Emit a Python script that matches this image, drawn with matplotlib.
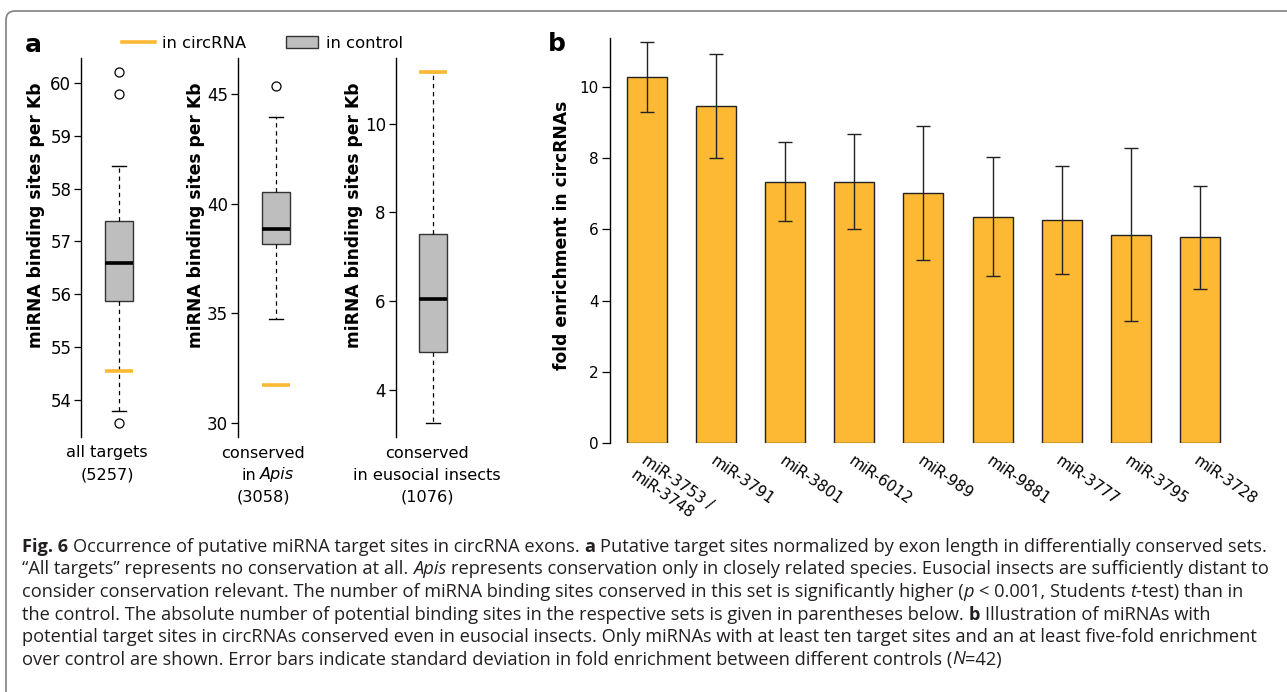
import matplotlib
matplotlib.use('Agg')
import matplotlib.pyplot as plt
from matplotlib.patches import FancyBboxPatch, Patch
from matplotlib.lines import Line2D

# ---------------- data ----------------
box_names = ['all targets', 'conserved', 'conserved']
box_sub = ['', 'in Apis', 'in eusocial insects']
box_counts = ['(5257)', '(3058)', '(1076)']
q1 = [55.88, 38.15, 4.85]
med = [56.59, 38.86, 6.06]
q3 = [57.38, 40.51, 7.52]
whislo = [53.80, 34.74, 3.26]
whishi = [58.43, 43.94, 11.16]
fliers = [[60.21, 59.79, 53.57], [45.36], []]
circ_vals = [54.54, 31.73, 11.17]
a_ylims = [(53.3, 60.47), (29.38, 46.62), (2.94, 11.48)]
a_yticks = [[54, 55, 56, 57, 58, 59, 60], [30, 35, 40, 45], [4, 6, 8, 10]]

mirnas = ['miR-3753 /\nmiR-3748', 'miR-3791', 'miR-3801', 'miR-6012', 'miR-989',
          'miR-9881', 'miR-3777', 'miR-3795', 'miR-3728']
fold = [10.28, 9.46, 7.34, 7.34, 7.02, 6.35, 6.27, 5.85, 5.77]
sd = [0.99, 1.47, 1.11, 1.33, 1.88, 1.67, 1.52, 2.43, 1.45]
b_yticks = [0, 2, 4, 6, 8, 10]

ORANGE = '#FDB933'
GRAY = '#BEBEBE'
DARK = '#222222'

W, H = 1287, 692
fig = plt.figure(figsize=(W / 100, H / 100), dpi=100)
plt.rcParams['font.family'] = ['DejaVu Sans']


def fx(px):
    return px / W


def fy(py):
    return 1 - py / H


# background axes in pixel coordinates (frame + caption)
bg = fig.add_axes([0, 0, 1, 1], zorder=-1)
bg.set_xlim(0, W)
bg.set_ylim(H, 0)
bg.axis('off')
bg.add_patch(FancyBboxPatch((6, 11), W + 30, H + 30,
                            boxstyle='round,pad=0,rounding_size=9',
                            fill=False, ec='#8a8a8a', lw=1.3))

# ---------------- panel a ----------------
spines_x = [81, 238, 395.5]
box_cx = [119, 276, 433]
label_cx = [107, 263, 427]
ylab_x = [36, 196, 354]
top, bottom, axw = 58, 437, 70
LAB = 11.6
for i in range(3):
    ax = fig.add_axes([fx(spines_x[i]), fy(bottom), axw / W, (bottom - top) / H])
    pos = (box_cx[i] - spines_x[i]) / axw
    stats = dict(med=med[i], q1=q1[i], q3=q3[i], whislo=whislo[i],
                 whishi=whishi[i], fliers=fliers[i])
    ax.bxp([stats], positions=[pos], widths=0.4, capwidths=0.2, patch_artist=True,
           boxprops=dict(facecolor=GRAY, edgecolor='#333333', lw=1.0),
           medianprops=dict(color='black', lw=2.6),
           whiskerprops=dict(color='black', lw=0.9, ls=(0, (3.5, 3))),
           capprops=dict(color='black', lw=1.0),
           flierprops=dict(marker='o', mfc='none', mec='black', ms=6.5, mew=0.9))
    ax.hlines(circ_vals[i], pos - 0.2, pos + 0.2, color=ORANGE, lw=2.6, zorder=5)
    ax.set_xlim(0, 1)
    ax.set_ylim(*a_ylims[i])
    ax.set_yticks(a_yticks[i])
    ax.set_xticks([])
    for s in ['top', 'right', 'bottom']:
        ax.spines[s].set_visible(False)
    ax.spines['left'].set_linewidth(1.0)
    ax.patch.set_alpha(0)
    ax.tick_params(axis='y', direction='out', length=5, width=0.9, labelsize=12, pad=2)
    # category labels
    fig.text(fx(label_cx[i]), fy(453), box_names[i], ha='center', va='center', fontsize=LAB)
    if i == 0:
        fig.text(fx(label_cx[i]), fy(475), box_counts[i], ha='center', va='center', fontsize=LAB)
    else:
        if i == 1:
            fig.text(fx(label_cx[i] - 7), fy(475), 'in', ha='right', va='center', fontsize=LAB)
            fig.text(fx(label_cx[i] - 3), fy(475), 'Apis', ha='left', va='center',
                     fontsize=LAB, fontstyle='italic')
        else:
            fig.text(fx(label_cx[i]), fy(475), box_sub[i], ha='center', va='center', fontsize=LAB)
        fig.text(fx(label_cx[i]), fy(497), box_counts[i], ha='center', va='center', fontsize=LAB)
    fig.text(fx(ylab_x[i]), fy(215), 'miRNA binding sites per Kb', rotation=90,
             ha='center', va='center', fontsize=12.3, fontweight='bold')

fig.text(fx(25), fy(45), 'a', fontsize=18, fontweight='bold', va='center', ha='left')
fig.legend(handles=[Line2D([], [], color=ORANGE, lw=2.6),
                    Patch(facecolor=GRAY, edgecolor='#333333', lw=1.0)],
           labels=['in circRNA', 'in control'], ncol=2, frameon=False,
           loc='center left', bbox_to_anchor=(fx(122), fy(43)), fontsize=11.8,
           handlelength=2.0, handletextpad=0.45, columnspacing=2.4,
           borderaxespad=0, borderpad=0)

# ---------------- panel b ----------------
axb = fig.add_axes([fx(610), fy(443), (1240 - 610) / W, (443 - 38) / H])
x = list(range(len(mirnas)))
axb.bar(x, fold, width=0.58, color=ORANGE, edgecolor=DARK, lw=1.0, zorder=2)
axb.errorbar(x, fold, yerr=sd, fmt='none', ecolor=DARK, elinewidth=1.0,
             capsize=5, capthick=1.0, zorder=3)
axb.set_xlim(-0.535, 8.58)
axb.set_ylim(0, 11.37)
axb.set_yticks(b_yticks)
axb.set_xticks(x)
axb.set_xticklabels(mirnas, rotation=-35, ha='left', va='top',
                    rotation_mode='anchor', fontsize=11)
for s in ['top', 'right', 'bottom']:
    axb.spines[s].set_visible(False)
axb.spines['left'].set_linewidth(1.0)
axb.patch.set_alpha(0)
axb.tick_params(axis='y', direction='out', length=6, width=0.9, labelsize=11, pad=2)
axb.tick_params(axis='x', length=0, pad=7)
fig.text(fx(562), fy(235), 'fold enrichment in circRNAs', rotation=90,
         ha='center', va='center', fontsize=12.3, fontweight='bold')
fig.text(fx(548), fy(44), 'b', fontsize=18, fontweight='bold', va='center', ha='left')

# ---------------- caption ----------------
N, B, I = ('normal', 'normal'), ('bold', 'normal'), ('normal', 'italic')
cap_lines = [
    [('Fig. 6', B), (' Occurrence of putative miRNA target sites in circRNA exons. ', N), ('a', B),
     (' Putative target sites normalized by exon length in differentially conserved sets.', N)],
    [('\u201cAll targets\u201d represents no conservation at all. ', N), ('Apis', I),
     (' represents conservation only in closely related species. Eusocial insects are sufficiently distant to', N)],
    [('consider conservation relevant. The number of miRNA binding sites conserved in this set is significantly higher (', N),
     ('p', I), (' < 0.001, Students ', N), ('t', I), ('-test) than in', N)],
    [('the control. The absolute number of potential binding sites in the respective sets is given in parentheses below. ', N),
     ('b', B), (' Illustration of miRNAs with', N)],
    [('potential target sites in circRNAs conserved even in eusocial insects. Only miRNAs with at least ten target sites and an at least five-fold enrichment', N)],
    [('over control are shown. Error bars indicate standard deviation in fold enrichment between different controls (', N),
     ('N', I), ('=42)', N)],
]
CAPFONT = ['Open Sans', 'DejaVu Sans']
renderer = fig.canvas.get_renderer()


def tw(s, size, weight='normal', style='normal'):
    t = bg.text(0, 0, s, fontsize=size, fontweight=weight, fontstyle=style, family=CAPFONT)
    w = t.get_window_extent(renderer).width
    t.remove()
    return w


def draw_line(segs, x0, y0, size, draw=True):
    sp = tw('a a', size) - tw('aa', size)
    xx = x0
    for s, (wt, st) in segs:
        lead = len(s) - len(s.lstrip(' '))
        trail = len(s) - len(s.rstrip(' '))
        core = s.strip(' ')
        xx += lead * sp
        if draw:
            bg.text(xx, y0, core, fontsize=size, fontweight=wt, fontstyle=st,
                    family=CAPFONT, ha='left', va='baseline', color='#231F20')
        xx += tw(core, size, wt, st) + trail * sp
    return xx - x0


base = 10.0
wline = draw_line(cap_lines[0], 0, 0, base, draw=False)
cap_size = base * (1270 - 22) / wline
baselines = [552, 574.5, 597, 619.5, 642, 664.5]
for segs, yb in zip(cap_lines, baselines):
    draw_line(segs, 22, yb, cap_size)

fig.savefig('out.png', dpi=100)
